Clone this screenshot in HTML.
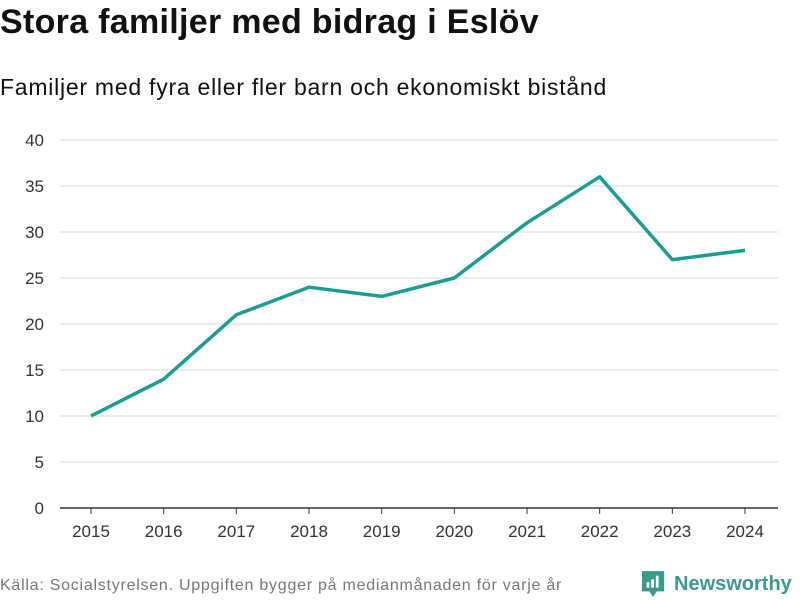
<!DOCTYPE html>
<html><head><meta charset="utf-8"><style>
body{margin:0;width:800px;height:600px;background:#fff;font-family:"Liberation Sans",sans-serif;overflow:hidden;position:relative}
.t{position:absolute;left:0;top:3px;font-size:34px;font-weight:bold;color:#111;letter-spacing:0.3px}
.s{position:absolute;left:0;top:74px;font-size:23px;color:#111;letter-spacing:0.75px}
.src{position:absolute;left:0;top:577px;font-size:16px;color:#777;letter-spacing:0.75px}
.logo{position:absolute;left:642px;top:570px;display:flex;align-items:center;color:#3a9a8c;font-size:20px;font-weight:bold}
</style></head><body>
<div class="t">Stora familjer med bidrag i Eslöv</div>
<div class="s">Familjer med fyra eller fler barn och ekonomiskt bistånd</div>
<svg id="c" width="800" height="600" style="position:absolute;left:0;top:0"></svg>
<div class="src">Källa: Socialstyrelsen. Uppgiften bygger på medianmånaden för varje år</div>
<div class="logo"><svg width="24" height="28" viewBox="0 0 26 28"><path d="M0 0H24V22H16L12 28L8 22H0Z" fill="#3a9a8c"/><rect x="5" y="12" width="3" height="6" fill="#fff"/><rect x="10" y="9" width="3" height="9" fill="#fff"/><rect x="15" y="5" width="3" height="13" fill="#fff"/></svg><span style="margin-left:8px">Newsworthy</span></div>
<script>
const years=[2015,2016,2017,2018,2019,2020,2021,2022,2023,2024];
const values=[10,14,21,24,23,25,31,36,27,28];
const yTicks=[0,5,10,15,20,25,30,35,40];
const svg=document.getElementById('c');const NS='http://www.w3.org/2000/svg';
const x=i=>91+i*(745-91)/9;const y=v=>508-v*9.2;
function mk(t,a){const e=document.createElementNS(NS,t);for(const k in a)e.setAttribute(k,a[k]);svg.appendChild(e);return e;}
yTicks.forEach(v=>{
const l=mk('line',{x1:60,x2:778,y1:y(v),y2:y(v),stroke:v===0?'#333':'#d9d9d9','stroke-width':v===0?1.5:1});


const t=mk('text',{x:44,y:y(v)+6,'text-anchor':'end','font-size':17,fill:'#333','font-family':'Liberation Sans'});t.textContent=v;


});
years.forEach((yr,i)=>{
const k=mk('line',{x1:x(i),x2:x(i),y1:508,y2:514,stroke:'#333'});


const t=mk('text',{x:x(i),y:537,'text-anchor':'middle','font-size':17,fill:'#333','font-family':'Liberation Sans'});t.textContent=yr;


});
const p=mk('polyline',{points:values.map((v,i)=>x(i)+','+y(v)).join(' '),fill:'none',stroke:'#1a9e94','stroke-width':3.5,'stroke-linejoin':'round'});


</script>
</body></html>
